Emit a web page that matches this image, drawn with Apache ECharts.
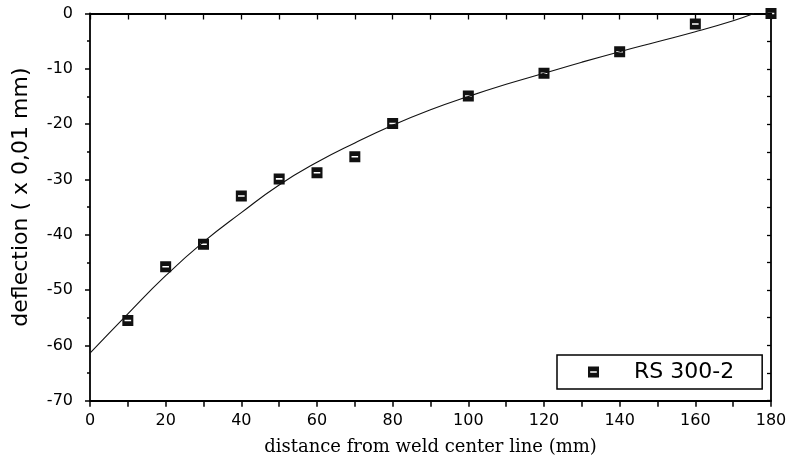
<!DOCTYPE html>
<html>
<head>
<meta charset="utf-8">
<script src="https://cdn.jsdelivr.net/npm/echarts@6/dist/echarts.min.js"></script>
<style>
html,body{margin:0;padding:0;background:#fff;}
#chart{width:793px;height:463px;}
</style>
</head>
<body>
<div id="chart"></div>
<script>
// measured data points (RS 300-2)
const pointX = [10, 20, 30, 40, 50, 60, 70, 80, 100, 120, 140, 160, 180];
const pointY = [-55.5, -45.8, -41.7, -33, -29.9, -28.8, -25.9, -19.9, -14.9, -10.8, -6.9, -1.9, 0];
// fitted curve
const curveX = [0, 10, 20, 30, 40, 50, 60, 70, 80, 90, 100, 110, 120, 130, 140, 150, 160, 170, 175.5];
const curveY = [-61.4, -54.3, -47.4, -41.3, -36.0, -31.0, -26.9, -23.4, -20.2, -17.4, -15.0, -12.8, -10.8, -8.8, -6.9, -5.1, -3.3, -1.3, 0];
const xTicks = [0, 20, 40, 60, 80, 100, 120, 140, 160, 180];
const yTicks = [0, -10, -20, -30, -40, -50, -60, -70];
const seriesName = 'RS 300-2';
const xTitle = 'distance from weld center line (mm)';
const yTitle = 'deflection ( x 0,01 mm)';

const markerPath = 'path://M0,0H10V10H0Z M2,4.3V5.7H8V4.3Z';

const chart = echarts.init(document.getElementById('chart'), null, {renderer: 'canvas'});
const axisCol = '#000';
const option = {
  backgroundColor: '#fff',
  animation: false,
  grid: {left: 90, right: 22, top: 13.5, bottom: 62.3, containLabel: false},
  legend: {
    data: [{name: seriesName, icon: markerPath}],
    left: 557, top: 355,
    orient: 'horizontal',
    itemWidth: 11, itemHeight: 11,
    padding: [6, 28, 6, 31],
    borderColor: '#000', borderWidth: 1.5,
    backgroundColor: '#fff',
    selectedMode: false,
    textStyle: {fontFamily: 'DejaVu Sans', fontSize: 22, color: '#000', padding: [0, 0, 0, 30]}
  },
  xAxis: [{
    type: 'value', position: 'bottom', min: 0, max: 180, interval: 20,
    name: xTitle, nameLocation: 'middle', nameGap: 38,
    nameTextStyle: {fontFamily: 'DejaVu Serif', fontSize: 18, color: '#000'},
    axisLine: {show: true, onZero: false, lineStyle: {color: axisCol, width: 1.8}},
    axisTick: {show: true, inside: false, length: 6, lineStyle: {color: axisCol, width: 1.5}},
    minorTick: {show: true, splitNumber: 2, length: 6, lineStyle: {color: axisCol, width: 1.5}},
    axisLabel: {fontFamily: 'DejaVu Sans', fontSize: 16, color: '#000', margin: 12,
      formatter: v => xTicks.includes(v) ? String(v) : ''},
    splitLine: {show: false}
  }, {
    type: 'value', position: 'top', min: 0, max: 180, interval: 10,
    axisLine: {show: true, onZero: false, lineStyle: {color: axisCol, width: 1.8}},
    axisTick: {show: true, inside: true, length: 6, lineStyle: {color: axisCol, width: 1.3}},
    axisLabel: {show: false}, splitLine: {show: false}
  }],
  yAxis: [{
    type: 'value', position: 'left', min: -70, max: 0, interval: 10,
    name: yTitle, nameLocation: 'middle', nameGap: 58, nameRotate: 90,
    nameTextStyle: {fontFamily: 'DejaVu Sans', fontSize: 22, color: '#000', padding: [0, 0, 0, 20]},
    axisLine: {show: true, onZero: false, lineStyle: {color: axisCol, width: 1.8}},
    axisTick: {show: true, inside: false, length: 5, lineStyle: {color: axisCol, width: 1.5}},
    minorTick: {show: true, splitNumber: 2, length: 3, lineStyle: {color: axisCol, width: 1.5}},
    axisLabel: {fontFamily: 'DejaVu Sans', fontSize: 16, color: '#000', margin: 17,
      formatter: v => yTicks.includes(v) ? String(v) : ''},
    splitLine: {show: false}
  }, {
    type: 'value', position: 'right', min: -70, max: 0, interval: 5,
    axisLine: {show: true, onZero: false, lineStyle: {color: axisCol, width: 1.8}},
    axisTick: {show: true, inside: true, length: 4, lineStyle: {color: axisCol, width: 1.3}},
    axisLabel: {show: false}, splitLine: {show: false}
  }],
  series: [{
    name: 'fit', type: 'line', xAxisIndex: 0, yAxisIndex: 0,
    data: curveX.map((x, i) => [x, curveY[i]]),
    smooth: true, showSymbol: false, symbol: 'none', clip: true,
    lineStyle: {color: '#111', width: 1.1}, z: 2, silent: true
  }, {
    name: seriesName, type: 'scatter', xAxisIndex: 0, yAxisIndex: 0,
    data: pointX.map((x, i) => [x, pointY[i]]),
    symbol: markerPath, symbolSize: 11, clip: false,
    itemStyle: {color: '#111', opacity: 1}, z: 3
  }]
};
chart.setOption(option);
</script>
</body>
</html>
